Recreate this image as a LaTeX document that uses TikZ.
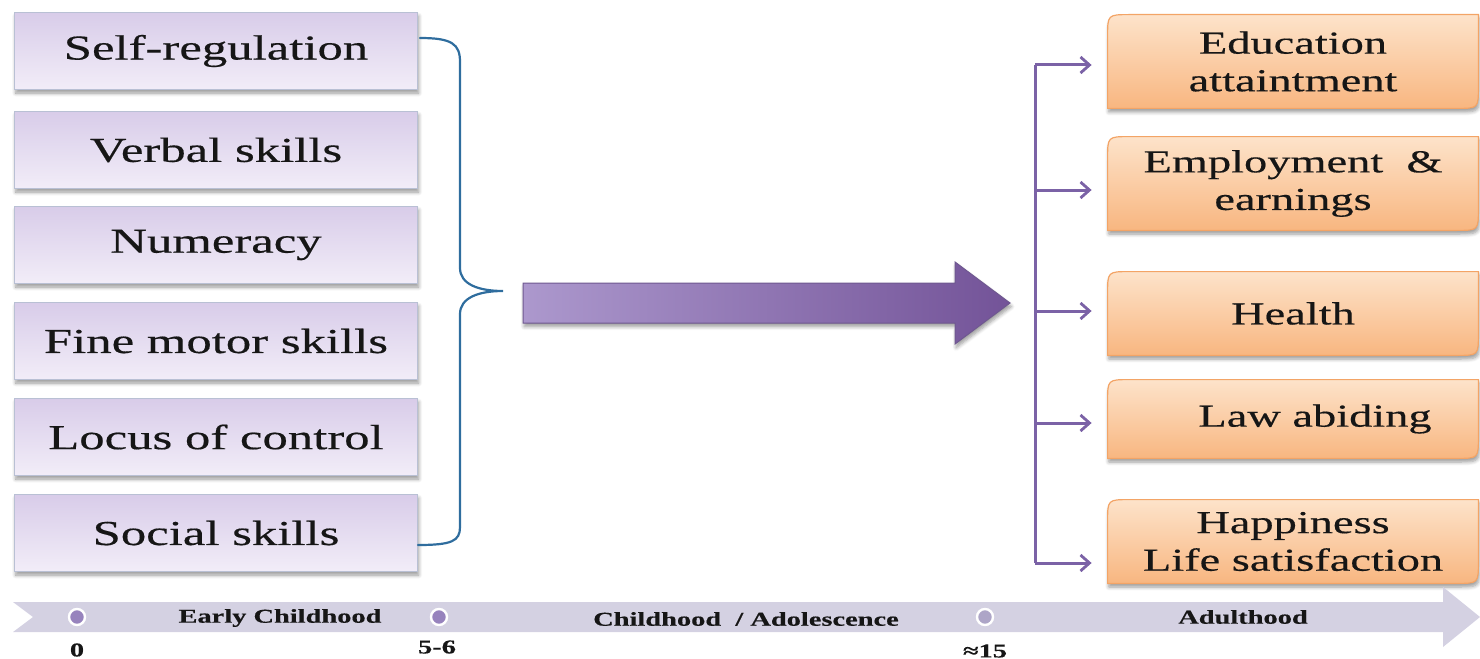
\documentclass[tikz,border=0pt]{standalone}
\usepackage{fontspec}
\setmainfont{Liberation Serif}[FakeStretch=1.45,FakeBold=0.4]
\usetikzlibrary{calc,shadows.blur,arrows.meta,backgrounds}

\definecolor{lavtop}{HTML}{D8CCE9}
\definecolor{lavbot}{HTML}{F2EDF8}
\definecolor{lavedge}{HTML}{B9C0D4}
\definecolor{bracecol}{HTML}{2F6D9E}
\definecolor{peachtop}{HTML}{FDE3CA}
\definecolor{peachbot}{HTML}{F8B680}
\definecolor{peachedge}{HTML}{F3A466}
\definecolor{linkcol}{HTML}{7B62A6}
\definecolor{arrowL}{HTML}{AC98CD}
\definecolor{arrowR}{HTML}{735398}
\definecolor{arrowedge}{HTML}{6F5890}
\definecolor{band}{HTML}{D4D1E2}
\definecolor{dotcol}{HTML}{9783BD}
\definecolor{dotpale}{HTML}{ADA5C7}
\definecolor{ink}{HTML}{161616}

\tikzset{
  softshadow/.style={blur shadow={shadow xshift=0.6bp, shadow yshift=-1.8bp,
      shadow blur steps=6, shadow opacity=40}},
  skill/.style={rectangle, draw=lavedge, line width=0.6bp,
      top color=lavtop, bottom color=lavbot,
      minimum width=201.5bp, minimum height=38.5bp, inner sep=0pt,
      text=ink, font=\fontsize{17.5bp}{20bp}\selectfont, softshadow},
  outcome/.style={rectangle, minimum width=185bp, inner sep=0pt,
      align=center, text=ink, font=\fontsize{16bp}{18.8bp}\selectfont},
  outshape/.style={draw=peachedge, line width=0.6bp,
      top color=peachtop, bottom color=peachbot, softshadow},
  brace/.style={draw=bracecol, line width=1.1bp, line cap=round},
  link/.style={draw=linkcol, line width=1.5bp},
  linkarrow/.style={link, -{Straight Barb[length=4.5bp,width=8bp,line width=1.4bp]}},
  bigarrow/.style={draw=arrowedge, line width=0.5bp,
      left color=arrowL, right color=arrowR, softshadow},
  stage/.style={inner sep=0pt, text=ink,
      font=\fontsize{9.8bp}{11bp}\selectfont\bfseries},
  dot/.style={circle, draw=white, line width=1.2bp, fill=dotcol,
      minimum size=8bp, inner sep=0pt},
}

% outcome box with rounded top-left and bottom-right corners
\newcommand{\diagbox}[1]{%
  \path[outshape] (#1.south west) -- ($(#1.north west)+(0,-11bp)$)
    .. controls (#1.north west) .. ($(#1.north west)+(11bp,0)$)
    -- (#1.north east) -- ($(#1.south east)+(0,11bp)$)
    .. controls (#1.south east) .. ($(#1.south east)+(-11bp,0)$)
    -- cycle;}

\begin{document}
\begin{tikzpicture}[x=0.5bp, y=-0.5bp]
\useasboundingbox (0,0) rectangle (1480,659);

% early skills
\node[skill] (s1) at (216,51)  {Self-regulation};
\node[skill] (s2) at (216,150) {Verbal skills};
\node[skill] (s3) at (216,245) {Numeracy};
\node[skill] (s4) at (216,341) {Fine motor skills};
\node[skill] (s5) at (216,437) {Locus of control};
\node[skill] (s6) at (216,533) {Social skills};

% brace gathering the skills
\coordinate (btop) at (420,38);
\coordinate (btip) at (503,291);
\coordinate (bbot) at (418,545);
\draw[brace] (btop) .. controls (452,38) and (460,44) .. (460,62)
  -- (460,268) .. controls (460,284) and (478,291) .. (btip)
  .. controls (478,291) and (460,298) .. (460,314)
  -- (460,527) .. controls (460,541) and (452,545) .. (bbot);

% main arrow
\path[bigarrow] (523,283) -- (955,283) -- (955,262) -- (1010,303)
  -- (955,344) -- (955,323) -- (523,323) -- cycle;

% adult outcomes
\node[outcome, minimum height=46.5bp] (o1) at (1293,61.5)  {Education\\attaintment};
\node[outcome, minimum height=46.5bp] (o2) at (1293,183.5) {Employment \ \&\\earnings};
\node[outcome, minimum height=41.5bp] (o3) at (1293,313.5) {Health};
\node[outcome, minimum height=39bp]   (o4) at (1293,419)   {\hspace*{22bp}Law abiding};
\node[outcome, minimum height=41.5bp] (o5) at (1293,541.5) {Happiness\\Life satisfaction};
\begin{scope}[on background layer]
  \diagbox{o1}\diagbox{o2}\diagbox{o3}\diagbox{o4}\diagbox{o5}
\end{scope}

% branching connectors
\coordinate (t1) at (1035,65);
\coordinate (t2) at (1035,190);
\coordinate (t3) at (1035,311);
\coordinate (t4) at (1035,423);
\coordinate (t5) at (1035,563);
\draw[link] (t1) -- (t5);
\draw[linkarrow] (t1) -- ($(o1.west |- t1)+(-8bp,0)$);
\draw[linkarrow] (t2) -- ($(o2.west |- t2)+(-8bp,0)$);
\draw[linkarrow] (t3) -- ($(o3.west |- t3)+(-8bp,0)$);
\draw[linkarrow] (t4) -- ($(o4.west |- t4)+(-8bp,0)$);
\draw[linkarrow] (t5) -- ($(o5.west |- t5)+(-8bp,0)$);

% age timeline
\fill[band] (13,602) -- (1443,602) -- (1443,587) -- (1480,617)
  -- (1443,647) -- (1443,632) -- (13,632) -- (33,617) -- cycle;
\node[dot] (d0) at (77,617) {};
\node[dot] (d1) at (439,617) {};
\node[dot, fill=dotpale] (d2) at (985,617) {};
\node[stage] (p1) at (280,618) {Early Childhood};
\node[stage] (p2) at (746,619) {Childhood \ / Adolescence};
\node[stage] (p3) at (1243,617) {Adulthood};
\node[stage] (a0) at (77,650)  {0};
\node[stage] (a1) at (437,647) {5-6};
\node[stage] (a2) at (985,651) {≈15};
\end{tikzpicture}
\end{document}
